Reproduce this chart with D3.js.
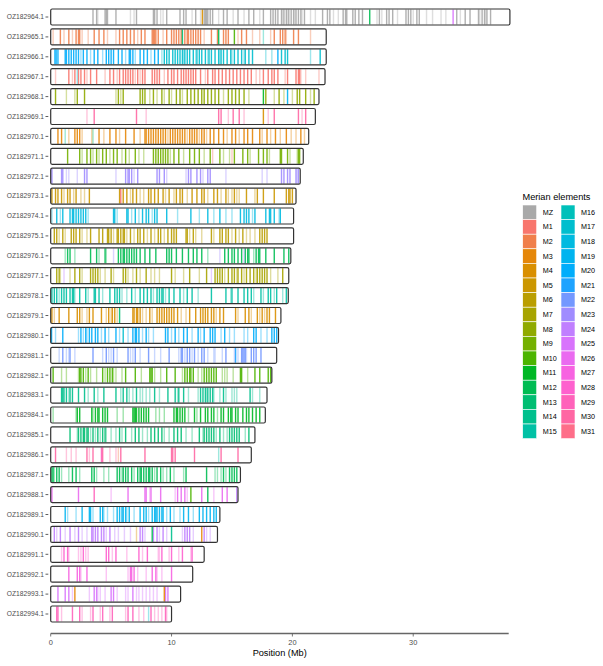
<!DOCTYPE html>
<html><head><meta charset="utf-8">
<script src="https://cdn.jsdelivr.net/npm/d3@7"></script>
<style>body{margin:0;background:#fff;font-family:"Liberation Sans",Arial,Helvetica,sans-serif;}</style>
</head><body><svg id="chart" width="603" height="666"></svg>
<script>
const chromosomes = ["OZ182964.1","OZ182965.1","OZ182966.1","OZ182967.1","OZ182968.1","OZ182969.1","OZ182970.1","OZ182971.1","OZ182972.1","OZ182973.1","OZ182974.1","OZ182975.1","OZ182976.1","OZ182977.1","OZ182978.1","OZ182979.1","OZ182980.1","OZ182981.1","OZ182982.1","OZ182983.1","OZ182984.1","OZ182985.1","OZ182986.1","OZ182987.1","OZ182988.1","OZ182989.1","OZ182990.1","OZ182991.1","OZ182992.1","OZ182993.1","OZ182994.1"];
const lengthsMb = [38.0,22.8,22.8,22.7,22.2,21.9,21.35,20.9,20.65,20.3,20.1,20.1,19.87,19.7,19.66,19.05,18.85,18.7,18.3,17.9,17.76,16.9,16.6,15.7,15.5,14.0,13.8,12.7,11.75,10.75,10.0];
const elements = ["MZ","M1","M2","M3","M4","M5","M6","M7","M8","M9","M10","M11","M12","M13","M14","M15","M16","M17","M18","M19","M20","M21","M22","M23","M24","M25","M26","M27","M28","M29","M30","M31"];
const mainElement = ["MZ","M2","M17","M1","M8","M30","M3","M9","M23","M5","M18","M6","M12","M7","M15","M4","M20","M22","M10","M14","M11","M13","M30","M12","M26","M19","M24","M28","M27","M25","M29"];
const strongTicks = [
[3.5,3.8,4.5,4.6,4.7,5.4,7.1,8.5,8.6,8.8,9.6,10.7,11.0,11.2,12.0,12.7,12.8,12.9,13.0,13.2,13.4,14.3,14.6,15.5,16.4,16.8,17.6,18.2,18.4,18.6,18.8,19.1,19.3,19.5,19.7,19.9,20.1,20.3,20.5,20.7,21.0,22.5,22.9,23.1,24.2,24.4,24.5,25.0,25.2,25.5,25.8,27.2,27.8,28.0,28.3,29.4,29.6,29.8,30.3,30.5,33.6,34.3,34.7,35.4,35.7,35.9,36.1,36.4],
[0.8,1.5,2.1,2.3,2.4,3.6,4.0,4.4,5.7,6.0,6.3,6.6,6.9,7.5,7.8,8.4,8.5,8.6,8.7,8.9,9.6,10.0,10.2,10.4,10.6,10.8,11.1,11.3,11.4,11.6,11.8,12.0,12.2,12.4,13.3,13.8,14.3,14.5,14.7,15.8,16.2,18.5,19.0,19.2,19.4,20.1,20.5],
[9.4,9.6,9.8,10.1,10.3,10.5,10.7,10.9,11.1,11.3,11.5,11.8,12.1,12.3,12.5,12.8,13.1,13.3,13.6,13.9,14.1,14.3,14.6,14.9,15.2,15.5,15.8,16.1,16.4,16.7,19.1,19.4,19.6,22.3],
[1.5,2.0,2.3,2.5,2.8,3.3,3.8,4.9,5.2,5.7,6.0,6.2,6.4,6.6,6.8,7.2,7.6,7.8,8.4,8.6,8.8,9.0,9.7,10.0,10.2,10.5,10.8,11.0,11.2,11.4,11.6,11.8,12.0,12.4,13.0,13.4,13.6,13.9,14.2,14.5,14.8,15.1,15.4,15.7,16.0,16.3,16.6,17.6,18.0,18.3,18.5,18.8,19.6,20.3,20.5,20.6],
[0.4,2.2,2.8,5.6,6.0,7.4,7.6,7.8,8.5,9.2,9.8,10.4,10.7,11.3,11.6,11.9,12.2,12.5,12.7,13.0,13.3,13.6,13.9,14.7,15.0,15.3,15.6,16.0,17.8,18.9,20.4,20.6,21.1,21.8],
[3.6,7.1,13.9,14.1,15.1,15.6,18.5,20.5,21.1],
[0.6,0.9,2.0,2.2,2.4,4.0,4.9,5.4,6.2,6.9,7.8,7.9,8.1,8.3,8.5,8.7,8.9,9.1,9.3,9.5,9.9,10.1,10.3,10.5,10.7,10.9,11.1,11.5,11.7,11.9,12.1,12.5,12.7,13.2,13.5,13.9,14.3,15.0,15.3,16.0,16.3,16.7,17.3,17.9,18.6,19.5,20.7],
[1.4,2.4,3.0,3.3,3.8,4.3,4.6,5.2,5.5,6.2,7.0,8.5,8.7,8.9,9.1,9.3,9.5,9.7,10.2,10.6,11.5,11.9,12.3,13.2,14.0,15.2,15.9,16.3,17.2,17.6,17.9,19.0,19.1,19.6,20.5,20.6],
[0.1,0.9,1.0,2.8,3.0,6.2,6.4,6.5,6.7,7.2,8.8,9.0,9.4,11.4,11.6,12.1,12.4,13.0,13.2,19.1,19.3,19.6,19.8,20.3,20.5],
[0.1,0.4,0.6,0.9,1.4,1.6,2.1,3.2,5.7,6.0,6.3,6.8,7.1,8.1,8.3,8.6,8.9,9.3,9.8,10.4,10.7,10.9,11.7,12.1,12.5,12.7,13.5,13.8,14.5,15.2,16.2,17.1,17.6,18.5,19.5,19.7,19.8,20.0],
[0.5,1.0,1.6,1.8,1.9,2.1,2.3,2.5,2.7,2.9,5.2,5.3,6.3,6.4,7.0,7.6,7.9,8.1,8.6,8.8,9.6,11.6,13.0,14.0,15.7,16.0,16.2,16.4,16.9,17.8,18.1,18.2,18.5,19.0],
[0.3,0.5,1.0,1.7,1.9,2.1,2.4,3.3,4.0,4.3,4.7,4.8,5.0,5.5,5.6,5.8,6.0,6.1,6.6,7.2,7.4,7.7,8.3,8.9,9.1,9.7,10.0,10.2,10.4,11.2,11.3,11.8,13.3,14.0,14.2,14.5,14.7,15.3,15.9,17.3,17.5,17.7,17.9],
[1.4,1.6,3.3,3.8,4.5,5.6,5.8,6.0,6.1,6.3,6.5,6.7,6.9,7.1,7.4,7.8,8.2,8.7,9.6,9.8,10.0,10.4,10.9,11.4,11.8,12.1,12.5,14.4,14.7,15.0,15.2,15.5,15.8,16.1,16.3,16.4,17.0,17.2,17.3,17.8,18.5,19.3,19.7],
[0.5,0.7,2.0,2.4,3.3,3.5,3.7,3.9,5.0,6.0,6.2,7.1,7.9,10.0,11.5,12.9,13.6,13.8,14.0,14.2,14.7,15.0,15.2,15.5,15.8,16.2,16.5,16.8,17.1,17.3,17.5,17.7,17.9,19.2],
[0.1,0.3,0.5,0.9,1.1,1.3,1.6,1.8,1.9,2.4,2.9,3.6,3.7,4.0,4.9,5.3,5.5,5.7,6.7,7.4,7.7,8.0,8.3,8.8,9.0,9.2,9.3,9.8,10.2,10.7,11.3,11.7,13.3,14.5,15.0,15.5,16.0,16.3,16.6,17.4,18.0,18.2,18.7,19.5],
[0.1,0.7,1.5,2.2,2.4,3.2,3.5,4.2,4.8,5.1,5.3,6.8,6.9,7.1,7.2,7.4,8.2,8.8,9.0,9.2,9.4,9.6,9.8,10.0,10.2,10.5,11.5,12.0,12.4,12.6,12.8,13.0,13.3,13.5,14.0,14.3,15.3,16.1,16.4,17.1,17.5,17.9,18.1,18.6],
[0.05,1.0,2.5,2.9,3.2,3.4,3.7,3.9,4.5,5.4,6.8,7.0,7.1,7.3,7.9,9.5,9.7,10.3,11.0,11.3,12.2,12.7,13.2,13.4,13.6,14.4,16.8,17.0,18.3,18.5,18.7],
[1.0,1.6,3.5,4.6,5.2,6.4,7.0,8.1,9.8,10.8,10.9,11.3,11.5,11.9,12.5,12.7,14.5,15.8,15.9,16.0,16.1,16.6,16.8,17.0,17.4],
[0.2,2.4,2.5,2.7,3.1,4.3,4.7,4.9,5.1,6.2,7.0,8.2,8.3,8.4,9.6,10.3,11.1,11.3,11.5,11.6,11.8,12.7,12.9,13.1,13.3,13.5,13.7,15.7,15.8,16.9,17.3,18.0,18.2],
[0.9,1.0,1.1,1.3,1.6,1.8,2.3,2.8,3.6,4.4,5.4,6.0,6.3,7.1,8.6,9.7,10.3,10.6,11.0,12.4,12.6,12.8,13.0,13.2,13.4,14.3,16.5],
[2.2,2.4,3.4,3.7,3.9,4.0,4.3,4.5,4.7,6.8,6.9,7.0,7.1,7.3,7.5,7.7,7.9,8.1,10.2,10.4,10.5,10.7,10.9,11.1,11.9,12.4,12.8,13.0,13.3,13.5,14.1,14.3,14.7,14.9,15.0,15.3,15.5,15.9,16.2,16.4,16.7,17.0,17.3],
[1.6,2.3,2.5,2.7,2.8,3.0,3.1,3.5,3.9,4.3,4.5,5.7,6.2,7.0,7.3,8.3,8.6,8.9,9.2,10.2,10.5,10.8,12.3,12.7,12.9,13.1,13.3,13.5,14.0,14.8,15.0,15.2,15.4,15.6,16.4],
[0.4,3.0,3.5,4.3,5.8,7.8,10.0,10.1,10.3,11.9,14.1,15.5],
[0.1,0.2,0.5,0.7,1.8,2.1,3.4,3.6,5.5,5.7,6.0,6.2,6.4,6.7,7.2,7.4,7.5,7.7,7.9,8.1,8.2,8.4,8.8,9.1,9.9,11.2,12.9,14.3,14.8,15.0,15.2,15.4],
[0.1,2.3,6.4,7.8,7.9,8.3,9.1,10.5,10.8,11.1,12.5,14.2,14.6],
[1.2,2.6,3.2,3.3,4.1,4.3,5.5,5.7,5.9,6.0,6.2,6.5,7.4,7.7,7.9,8.4,8.6,8.7,8.8,9.0,9.2,9.3,9.9,11.0,11.4,12.3,12.6,12.9,13.2,13.5,13.7],
[0.3,0.8,1.6,2.3,3.4,3.5,3.7,3.9,4.2,4.4,4.9,7.4,7.6,8.5,8.8,9.3,11.1,11.3,11.5,12.7],
[1.1,1.4,2.7,4.6,4.8,5.4,7.3,8.0,9.2,10.0,10.9,11.7],
[1.5,2.2,2.4,3.0,6.6,6.7,6.9,8.4,8.7,10.0],
[0.6,1.2,1.5,3.6,3.8,5.0,5.2,6.8,9.5,9.7],
[0.5,0.6,1.8,2.4,3.5,4.3,5.1,6.4,6.8,8.3,9.5]
];
const lightTicks = [
[3.9,6.6,6.9,9.1,9.3,11.7,12.4,13.9,15.1,16.0,17.3,19.2,19.6,20.2,20.8,21.5,21.9,23.4,23.8,27.0,27.4,28.7,30.0,31.1,31.6,32.3,32.7,33.9,35.5,36.0],
[0.2,1.1,1.8,2.6,3.1,4.7,5.4,7.2,9.3,12.7,15.5,16.7,17.3,18.2,19.5,21.5],
[9.2,11.0,12.0,13.0,14.0,15.0,16.0,17.8,18.3,21.5],
[0.4,1.8,3.0,4.5,5.5,7.0,7.4,9.4,12.8,17.0,17.3,19.4,20.7,21.1,22.2],
[1.3,2.0,5.4,5.8,8.2,8.8,9.4,10.0,10.9,14.3,16.4,18.5,19.3,20.0,21.5],
[3.0,7.9,14.7,16.0,18.0,20.8],
[1.5,2.6,3.4,4.4,5.7,7.4,9.7,11.3,12.3,12.9,14.6,15.6,17.5,18.2,19.0,19.9,20.3,21.0],
[2.6,3.5,4.0,4.9,5.9,6.5,7.3,7.7,9.9,11.0,12.7,14.3,14.8,16.5,18.1,19.8,20.4],
[1.3,1.5,2.2,5.4,6.9,9.6,11.2,12.6,14.5,17.5,17.9,20.4],
[1.1,1.9,2.5,2.8,6.6,7.4,7.7,9.5,10.2,11.3,13.0,14.1,14.7,15.0,15.4,15.6,16.9],
[0.1,0.8,3.1,5.5,6.7,7.3,8.4,10.5,12.3,13.5,14.5,15.0,16.7,18.9],
[0.7,1.2,2.6,3.0,5.2,6.3,6.9,8.0,8.6,9.4,11.5,12.0,12.5,13.5,15.0,15.6,16.2,16.5,16.9],
[1.2,2.0,4.0,4.6,13.0,16.8],
[0.8,1.6,2.6,4.1,4.5,5.2,6.4,6.8,7.4,8.3,8.6,9.0,10.3,11.0,12.3,14.4,15.4,16.0,17.0,18.2,18.8],
[0.7,2.0,3.1,4.3,5.9,6.3,7.0,8.5,9.5,11.0,12.2,14.9,16.8,17.6,18.5,19.2],
[0.3,2.6,3.0,4.6,5.0,5.5,7.6,7.9,8.4,10.8,11.2,13.7,15.5,16.6,17.3,17.7],
[0.1,0.4,2.3,2.7,3.0,4.2,4.8,5.7,6.4,7.6,8.1,8.5,10.0,10.6,11.7,12.4,14.1,14.8,15.2,16.0,16.3,17.4,17.9],
[0.7,1.3,1.5,2.0,4.3,4.8,5.0,5.5,6.6,6.8,7.4,8.6,9.1,10.6,11.1,11.7,12.2,13.0,13.5,13.6,14.2,15.2,15.5,16.2],
[0.9,1.3,2.3,2.9,3.3,3.8,4.5,5.2,5.4,5.9,7.5,8.6,9.1,10.9,12.2,12.5,14.2,14.4,14.6,15.1,16.3],
[1.5,3.1,3.9,5.8,6.5,6.8,7.4,7.6,7.9,8.2,9.0,10.5,11.4,12.2,12.9,13.5,14.0,14.5,15.0,15.2,15.4,16.7,17.3],
[0.2,2.1,3.5,5.5,6.0,8.7,9.0,9.4,11.4,12.1,13.8],
[2.2,3.3,3.7,4.1,4.6,5.0,5.4,5.9,6.7,7.6,8.0,9.4,9.8,11.2,11.7,12.6,13.7,14.3,14.6,16.1],
[1.3,1.7,2.1,3.2,4.9,5.4],
[0.3,0.9,1.5,2.4,3.8,4.4,4.8,5.9,6.9,8.6,9.3,9.6,10.2,11.0,13.6,13.8,14.1,14.5],
[5.0,8.2,10.3,11.3,13.5],
[1.4,2.1,3.5,4.4,4.7,5.2,6.3,6.9,8.1,9.6,10.2,10.7,11.8],
[0.5,1.2,2.0,2.6,3.0,4.6,5.3,5.6,6.1,6.6,7.8,9.0,9.6,10.9,11.8,12.9,13.2],
[0.9,1.5,2.3,2.5,2.9,3.1,5.1,6.3,7.6,8.9,9.0,9.8,10.6,11.6],
[2.5,4.6,6.4,7.2,7.9,8.8,9.2],
[1.8,3.2,3.9,4.1,4.5,5.5,6.2,6.4,7.1,7.3,7.6,7.9,8.2,8.5,8.8],
[0.9,2.6,3.3,4.1,4.9,6.2,7.3,7.7,8.6,8.9,9.2,9.6]
];
// extra groups: [row, element, strong positions, light positions]
const otherTicks = [
[0,"M4",[12.55],[]],[0,"M12",[26.4],[]],[0,"M25",[33.3],[]],
[1,"M13",[10.9],[]],[1,"M12",[13.9],[]],[1,"M10",[15.2],[]],[1,"M15",[],[17.6]],
[2,"M20",[0.35,0.45,0.6,1.2,1.3,1.5,1.7,1.9,2.1,2.3,2.7,3.0,3.6,3.9,4.6,4.8,5.0,5.2,5.6,5.9,6.5,6.6,6.8,7.4,7.7,8.0,8.6,8.9,18.8],[2.5,3.3,4.3,6.2,7.0,8.3]],
[3,"M17",[],[2.2]],
[4,"M11",[17.6],[]],[4,"M19",[19.6],[]],
[5,"M4",[17.6],[]],
[6,"M14",[],[1.2]],[6,"M13",[],[3.5]],
[7,"M1",[],[13.4,15.0]],
[9,"M1",[5.8],[]],
[12,"M23",[],[5.2,14.0,16.0]],
[13,"M24",[],[1.1,13.3]],
[15,"M13",[5.7],[]],
[16,"M17",[6.0],[]],
[17,"M21",[15.3],[]],
[22,"M29",[4.2],[]],[22,"M2",[],[5.6]],[22,"M15",[],[13.9]],
[24,"M29",[3.6],[]],[24,"M10",[11.6],[]],[24,"M12",[13.0],[]],[24,"M24",[15.4],[]],
[26,"M4",[],[7.1]],[26,"M12",[8.4],[]],[26,"M14",[10.0],[]],[26,"M3",[12.5],[]],
[29,"M3",[2.0,9.4],[]],
[30,"M17",[],[8.1]]
];
const xTicks = [0,10,20,30];

// build table
const ticks = [];
chromosomes.forEach((c,i)=>{
  strongTicks[i].forEach(p=>ticks.push({chr:c,pos:p,el:mainElement[i],a:0.9}));
  lightTicks[i].forEach(p=>ticks.push({chr:c,pos:p,el:mainElement[i],a:0.38}));
});
otherTicks.forEach(([r,el,s,l])=>{
  s.forEach(p=>ticks.push({chr:chromosomes[r],pos:p,el:el,a:0.9}));
  l.forEach(p=>ticks.push({chr:chromosomes[r],pos:p,el:el,a:0.38}));
});

// ggplot2-style hue palette (polar LUV, as in grDevices::hcl)
function hclLuv(h, c, l){
  const WY=100, Wu=0.1978398, Wv=0.4683363;
  const hr = h*Math.PI/180, U=c*Math.cos(hr), V=c*Math.sin(hr);
  const Y = WY*(l>7.999592 ? Math.pow((l+16)/116,3) : l/903.3);
  const u = U/(13*l)+Wu, v = V/(13*l)+Wv;
  const X = 9*Y*u/(4*v), Z = -X/3 - 5*Y + 3*Y/v;
  const g = t => t>0.00304 ? 1.055*Math.pow(t,1/2.4)-0.055 : 12.92*t;
  const cl = t => Math.max(0,Math.min(1,t));
  const r = cl(g((3.240479*X-1.537150*Y-0.498535*Z)/WY));
  const gg = cl(g((-0.969256*X+1.875992*Y+0.041556*Z)/WY));
  const b = cl(g((0.055648*X-0.204043*Y+1.057311*Z)/WY));
  return d3.rgb(r*255,gg*255,b*255).formatHex();
}
const hueColors = elements.slice(1).map((e,i)=>hclLuv(15 + i*360/31, 100, 65));
const color = d3.scaleOrdinal().domain(elements).range(["#A9A9A9", ...hueColors]);

const svg = d3.select("#chart");
const x = d3.scaleLinear().domain([0,37.9]).range([50.7,508.7]);
const y = d3.scalePoint().domain(chromosomes).range([17,614]);
const h = 16;

// ticks
svg.append("g").selectAll("rect").data(ticks).join("rect")
  .attr("x", d=>x(d.pos)-0.7).attr("width",1.4)
  .attr("y", d=>y(d.chr)-h/2+0.5).attr("height",h-1)
  .attr("fill", d=>color(d.el)).attr("fill-opacity", d=>d.a);

// chromosome outlines
svg.append("g").selectAll("rect").data(chromosomes).join("rect")
  .attr("x", x(0)).attr("width",(d,i)=>x(lengthsMb[i])-x(0))
  .attr("y", d=>y(d)-h/2).attr("height",h)
  .attr("rx",1.5).attr("fill","none").attr("stroke","#333").attr("stroke-width",1.2);

// y axis labels
const yg = svg.append("g");
chromosomes.forEach(c=>{
  yg.append("line").attr("x1",45.5).attr("x2",48.3).attr("y1",y(c)).attr("y2",y(c)).attr("stroke","#333").attr("stroke-width",0.8);
  yg.append("text").attr("x",44).attr("y",y(c)).attr("dy","0.35em").attr("text-anchor","end")
    .attr("font-size",6.7).attr("fill","#4D4D4D").text(c);
});

// x axis
const xg = svg.append("g");
xg.append("line").attr("x1",x(0)).attr("x2",x(37.9)).attr("y1",633.5).attr("y2",633.5).attr("stroke","#666").attr("stroke-width",1.3);
xTicks.forEach(t=>{
  xg.append("line").attr("x1",x(t)).attr("x2",x(t)).attr("y1",633.5).attr("y2",636.5).attr("stroke","#555").attr("stroke-width",0.8);
  xg.append("text").attr("x",x(t)).attr("y",644.5).attr("text-anchor","middle").attr("font-size",7.4).attr("fill","#4D4D4D").text(t);
});
svg.append("text").attr("x",(x(0)+x(37.9))/2).attr("y",656).attr("text-anchor","middle").attr("font-size",9.2).attr("fill","#000").text("Position (Mb)");

// legend
const lg = svg.append("g");
lg.append("text").attr("x",522.5).attr("y",200).attr("font-size",9.2).attr("fill","#000").text("Merian elements");
const keyH = 14.6;
elements.forEach((e,i)=>{
  const col = Math.floor(i/16), row = i%16;
  const kx = col===0 ? 522.7 : 561;
  const ky = 205 + row*keyH;
  lg.append("rect").attr("x",kx).attr("y",ky).attr("width",14).attr("height",keyH)
    .attr("fill",color(e)).attr("stroke","#fff").attr("stroke-width",0.6);
  lg.append("text").attr("x",kx+20).attr("y",ky+keyH/2).attr("dy","0.35em").attr("font-size",7.2).attr("fill","#000").text(e);
});
</script></body></html>
